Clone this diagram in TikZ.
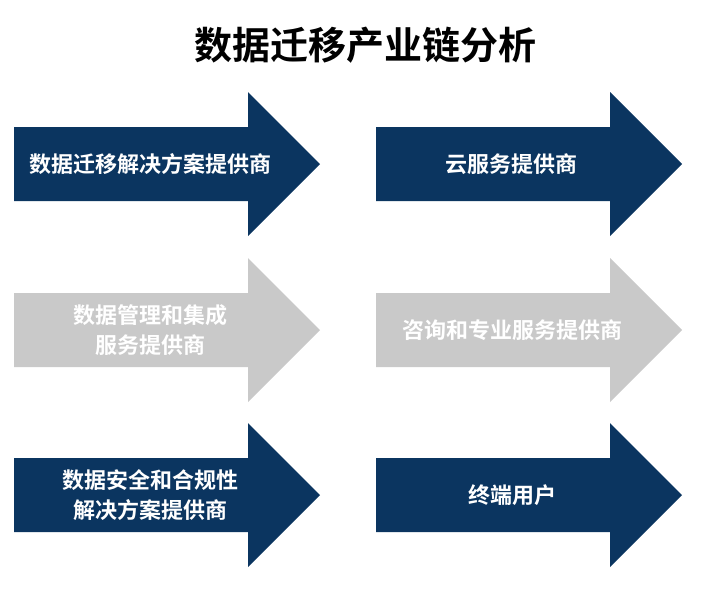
\documentclass[tikz,border=0pt]{standalone}
\usepackage{fontspec}
\newfontfamily\cjk{Noto Sans CJK SC}[BoldFont={Noto Sans CJK SC Bold}]
\definecolor{navy}{HTML}{0B3560}
\definecolor{lgray}{HTML}{C9C9C9}
\begin{document}
\begin{tikzpicture}[x=1pt,y=-1pt,
  lbl/.style={text=white,font=\cjk\bfseries\fontsize{22}{30}\selectfont,align=center}]
\useasboundingbox (0,0) rectangle (711,590);
\newcommand\myarrow[3]{% x, ycenter, color
  \fill[#3] (#1,#2-37) -- (#1+234,#2-37) -- (#1+234,#2-72) -- (#1+306,#2) -- (#1+234,#2+72) -- (#1+234,#2+37) -- (#1,#2+37) -- cycle;}
\node[font=\cjk\bfseries\fontsize{38}{44}\selectfont] (title) at (365,45) {数据迁移产业链分析};
\myarrow{14}{164}{navy}
\myarrow{376}{164}{navy}
\myarrow{14}{330}{lgray}
\myarrow{376}{330}{lgray}
\myarrow{14}{495}{navy}
\myarrow{376}{495}{navy}
\node[lbl] (a1) at (150,164) {数据迁移解决方案提供商};
\node[lbl] (a2) at (511,164) {云服务提供商};
\node[lbl] (a3) at (150,330) {数据管理和集成\\服务提供商};
\node[lbl] (a4) at (512,330) {咨询和专业服务提供商};
\node[lbl] (a5) at (150,495) {数据安全和合规性\\解决方案提供商};
\node[lbl] (a6) at (512,495) {终端用户};
\end{tikzpicture}
\end{document}
